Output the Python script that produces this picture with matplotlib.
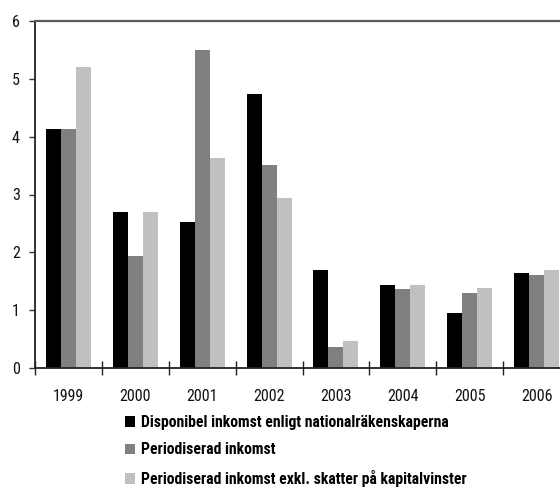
import matplotlib
matplotlib.use("Agg")
import matplotlib.pyplot as plt
from matplotlib.patches import Patch
import numpy as np

years = ["1999", "2000", "2001", "2002", "2003", "2004", "2005", "2006"]
disponibel = [4.13, 2.70, 2.53, 4.74, 1.70, 1.44, 0.95, 1.64]
periodiserad = [4.13, 1.94, 5.50, 3.51, 0.36, 1.37, 1.30, 1.61]
periodiserad_exkl = [5.20, 2.70, 3.63, 2.94, 0.47, 1.44, 1.38, 1.70]
labels = ["Disponibel inkomst enligt nationalräkenskaperna",
          "Periodiserad inkomst",
          "Periodiserad inkomst exkl. skatter på kapitalvinster"]
colors = ["#000000", "#808080", "#c0c0c0"]
yticks = [0, 1, 2, 3, 4, 5, 6]

plt.rcParams['font.family'] = ['Roboto Condensed', 'DejaVu Sans']

W, H = 560, 487
fig = plt.figure(figsize=(W / 100, H / 100), dpi=100)
ax = fig.add_axes([35 / W, 119 / H, 535 / W, 347 / H])

x = np.arange(len(years))
bw = 0.224
for i, (vals, c) in enumerate(zip([disponibel, periodiserad, periodiserad_exkl], colors)):
    ax.bar(x + (i - 1) * bw, vals, width=bw, color=c, edgecolor='none', zorder=2)

ax.set_xlim(-0.5, len(years) - 0.5)
ax.set_ylim(0, 6)
ax.set_yticks(yticks)
ax.set_yticklabels([str(t) for t in yticks])
ax.set_xticks(x)
ax.set_xticklabels(years)
ax.set_xticks(np.arange(-0.5, len(years)), minor=True)

ax.tick_params(axis='x', which='major', length=0, pad=15, labelsize=11.5, colors='#111111')
ax.tick_params(axis='x', which='minor', direction='inout', length=10, width=1.0, color='#222222')
ax.tick_params(axis='y', direction='out', length=4, width=1.0, pad=7, labelsize=11.5, color='#333333', labelcolor='#111111')

for s in ['left', 'bottom']:
    ax.spines[s].set_color('#222222')
    ax.spines[s].set_linewidth(1.3)
ax.spines['top'].set_color('#5a5a5a')
ax.spines['top'].set_linewidth(1.6)
ax.spines['right'].set_visible(False)

handles = [Patch(facecolor=c, edgecolor='none') for c in colors]
fig.legend(handles, labels, loc='upper left', bbox_to_anchor=(125 / W, 1 - 415 / H),
           frameon=False, borderpad=0, borderaxespad=0, handlelength=0.65, handleheight=0.65,
           handletextpad=0.35, labelspacing=0.79,
           prop={'family': ['Roboto Condensed', 'DejaVu Sans'], 'weight': 'bold', 'size': 11.3})

fig.savefig("out.png", dpi=100)
